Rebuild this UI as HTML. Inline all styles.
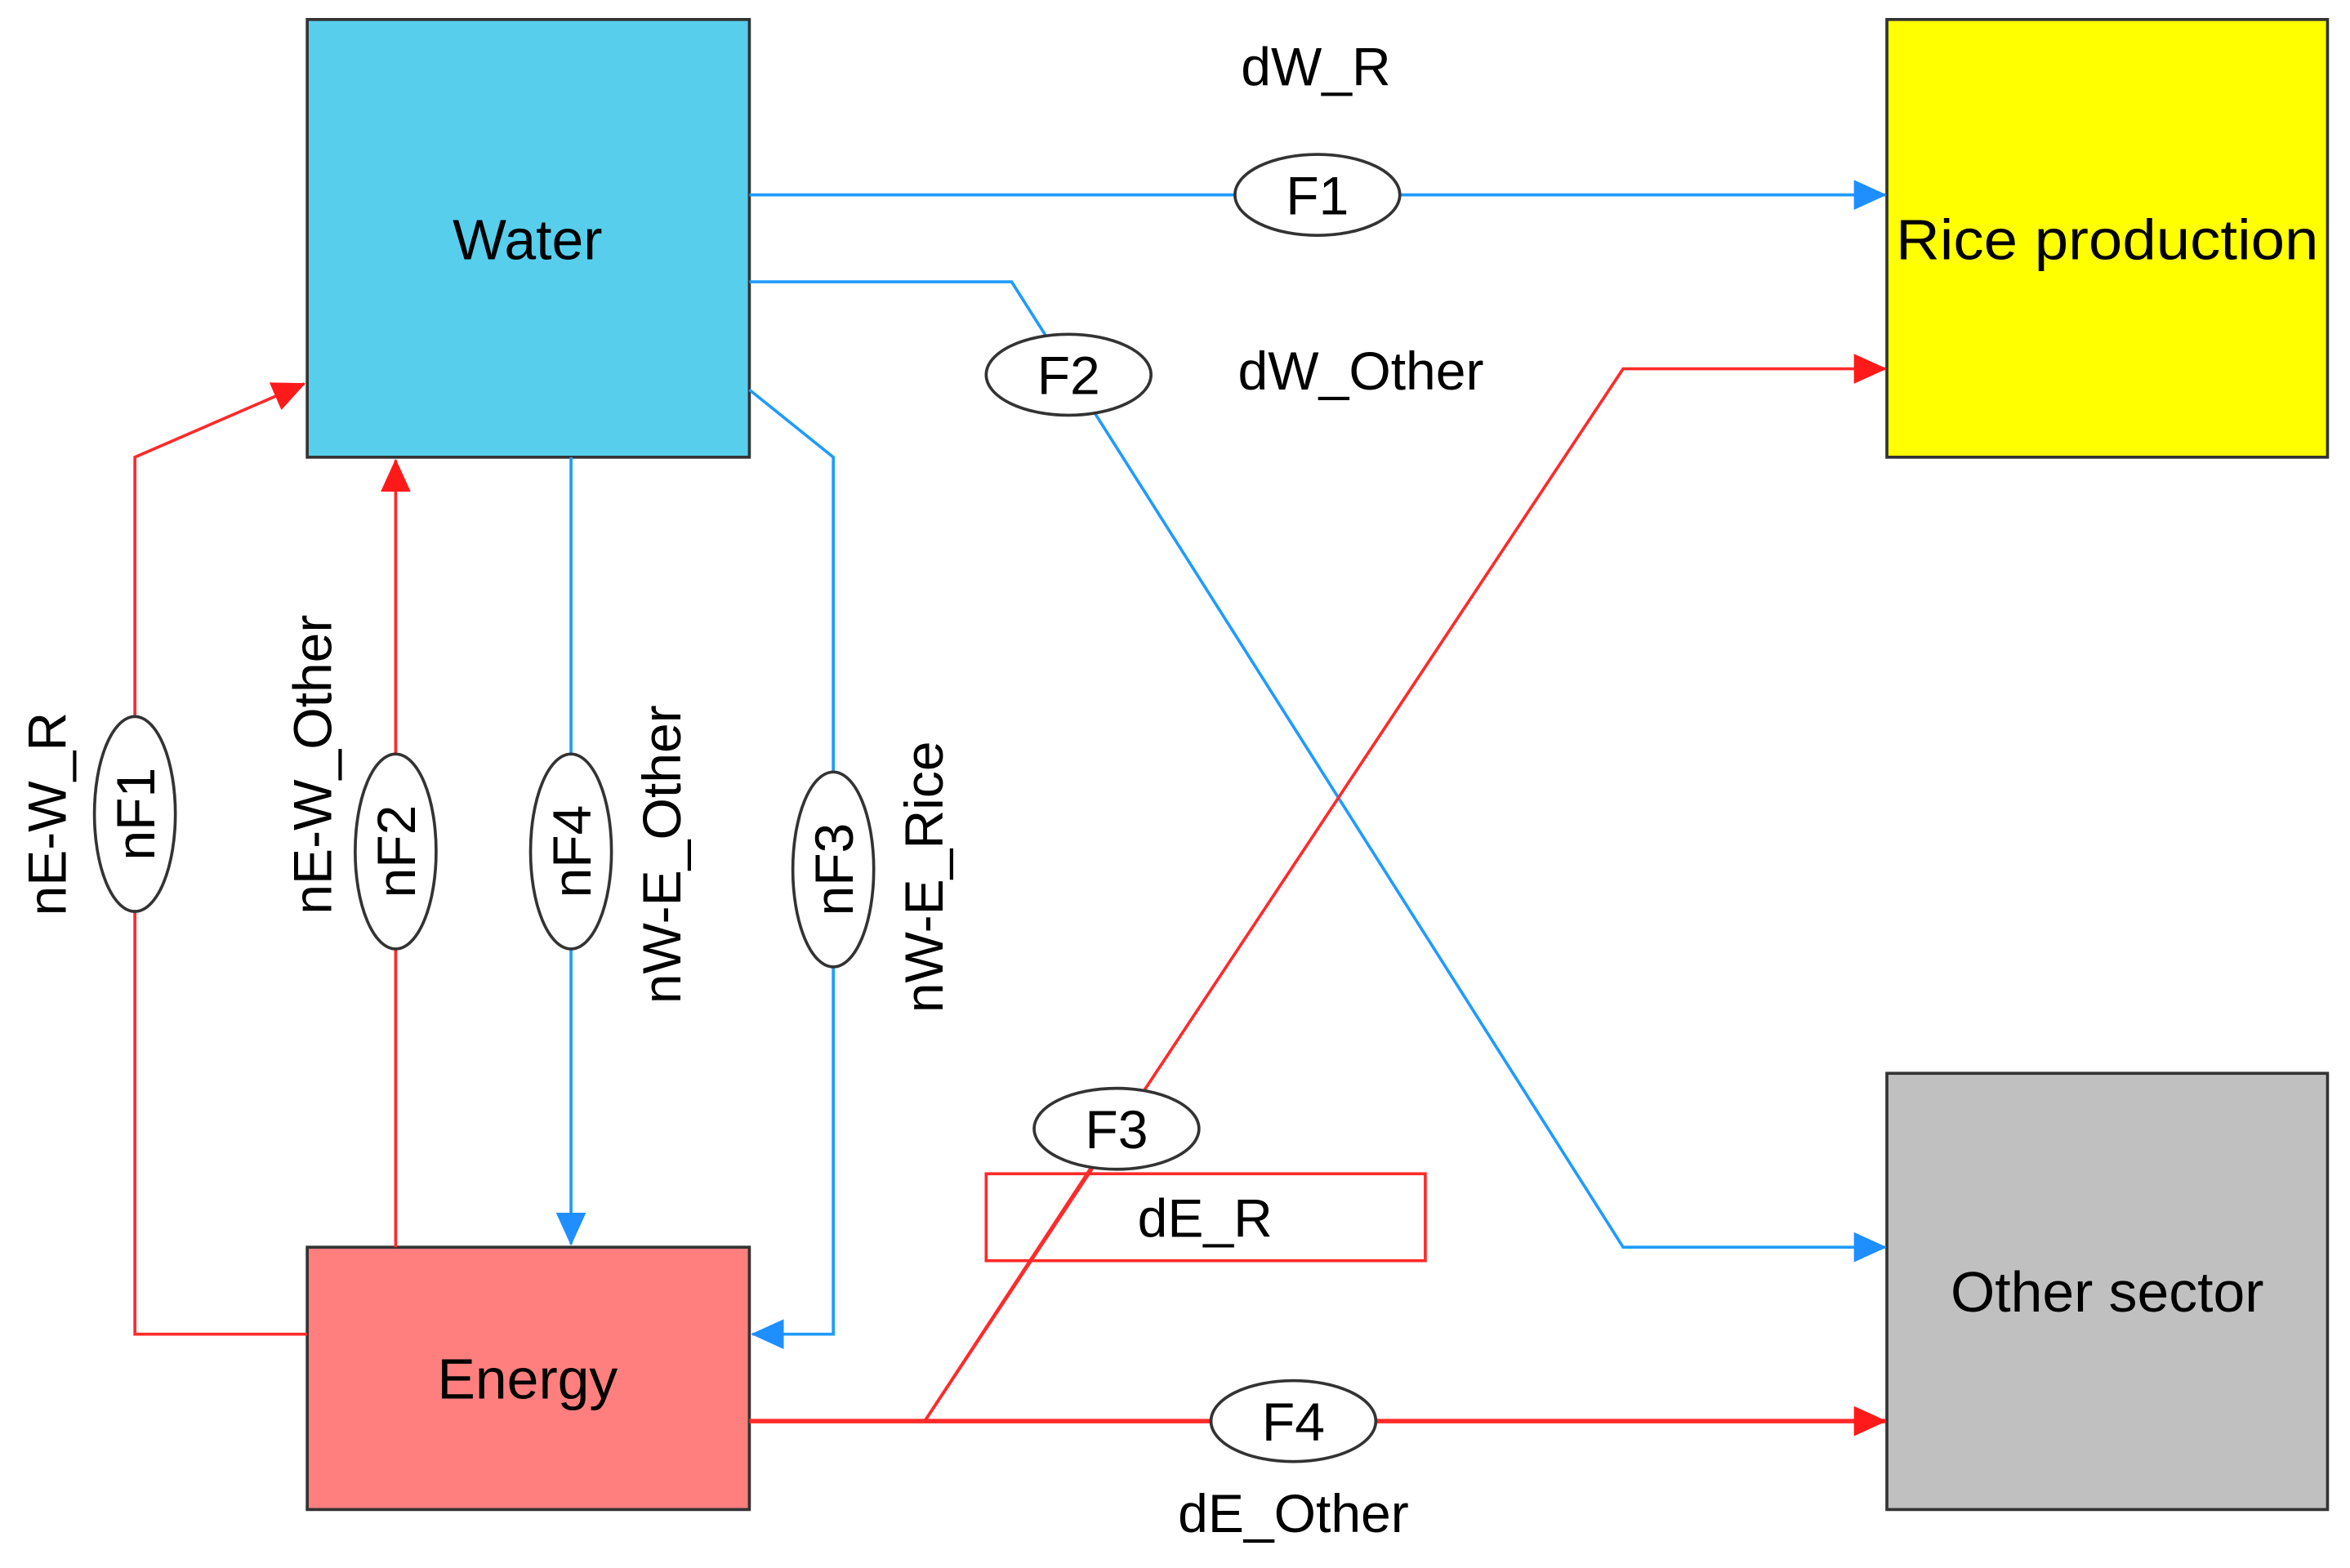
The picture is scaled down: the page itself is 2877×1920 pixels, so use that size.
<!DOCTYPE html>
<html><head><meta charset="utf-8"><style>html,body{margin:0;padding:0;background:#fff}svg{display:block}</style></head>
<body>
<svg width="2877" height="1920" viewBox="0 0 1568 1046" preserveAspectRatio="none" xmlns="http://www.w3.org/2000/svg" font-family="Liberation Sans, sans-serif" font-size="36" fill="none">
<defs>
<marker id="ab" markerWidth="22" markerHeight="20" refX="21" refY="10" orient="auto" markerUnits="userSpaceOnUse" viewBox="0 0 22 20"><path d="M0,0L22,10L0,20z" fill="#1f8fff"/></marker>
<marker id="ar" markerWidth="22" markerHeight="20" refX="21" refY="10" orient="auto" markerUnits="userSpaceOnUse" viewBox="0 0 22 20"><path d="M0,0L22,10L0,20z" fill="#ff1a1a"/></marker>
</defs>
<!-- boxes -->
<rect x="205" y="13" width="295" height="292" fill="#57cfec" stroke="#333" stroke-width="2"/>
<rect x="1259" y="13" width="294" height="292" fill="#ffff00" stroke="#333" stroke-width="2"/>
<rect x="1259" y="716" width="294" height="291" fill="#c0c0c0" stroke="#333" stroke-width="2"/>
<rect x="205" y="832" width="295" height="175" fill="#ff7f7f" stroke="#333" stroke-width="2"/>
<g fill="#000" text-anchor="middle" font-size="38">
<text x="352" y="173">Water</text>
<text x="1406" y="173" textLength="282" lengthAdjust="spacingAndGlyphs">Rice production</text>
<text x="1406" y="875">Other sector</text>
<text x="352" y="933">Energy</text>
</g>
<!-- blue lines -->
<g stroke="#1f9bff" stroke-width="2">
<path d="M500,130H1258" marker-end="url(#ab)"/>
<path d="M500,188H675L1083,832H1258" marker-end="url(#ab)"/>
<path d="M381,305V830" marker-end="url(#ab)"/>
<path d="M500,260L556,305V890H502" marker-end="url(#ab)"/>
</g>
<!-- red lines -->
<g stroke="#ff2a2a" stroke-width="2">
<path d="M617,948L1083,246H1258" marker-end="url(#ar)"/>
<path d="M500,948H1258" stroke-width="3" marker-end="url(#ar)"/>
<path d="M205,890H90V305L203,256" marker-end="url(#ar)"/>
<path d="M264,832V307" marker-end="url(#ar)"/>
</g>
<rect x="658" y="783" width="293" height="58" stroke="#ff2a2a" stroke-width="2"/>
<path d="M617,948L745,753" stroke="#ff2a2a" stroke-width="2"/>
<!-- ellipses -->
<g fill="#fff" stroke="#333" stroke-width="2">
<ellipse cx="879" cy="130" rx="55" ry="27"/>
<ellipse cx="713" cy="250" rx="55" ry="27"/>
<ellipse cx="745" cy="753" rx="55" ry="27"/>
<ellipse cx="863" cy="948" rx="55" ry="27"/>
<ellipse cx="90" cy="543" rx="27" ry="65"/>
<ellipse cx="264" cy="568" rx="27" ry="65"/>
<ellipse cx="381" cy="568" rx="27" ry="65"/>
<ellipse cx="556" cy="580" rx="27" ry="65"/>
</g>
<g fill="#000" text-anchor="middle">
<text x="879" y="143">F1</text>
<text x="713" y="263">F2</text>
<text x="745" y="766">F3</text>
<text x="863" y="961">F4</text>
<text x="804" y="825">dE_R</text>
<text x="878" y="57">dW_R</text>
<text x="908" y="260">dW_Other</text>
<text x="863" y="1022">dE_Other</text>
<text transform="translate(103,543) rotate(-90)">nF1</text>
<text transform="translate(277,568) rotate(-90)">nF2</text>
<text transform="translate(394,568) rotate(-90)">nF4</text>
<text transform="translate(569,580) rotate(-90)">nF3</text>
<text transform="translate(44,543) rotate(-90)">nE-W_R</text>
<text transform="translate(221,510) rotate(-90)">nE-W_Other</text>
<text transform="translate(454,570) rotate(-90)">nW-E_Other</text>
<text transform="translate(629,585) rotate(-90)">nW-E_Rice</text>
</g>
</svg>
</body></html>
